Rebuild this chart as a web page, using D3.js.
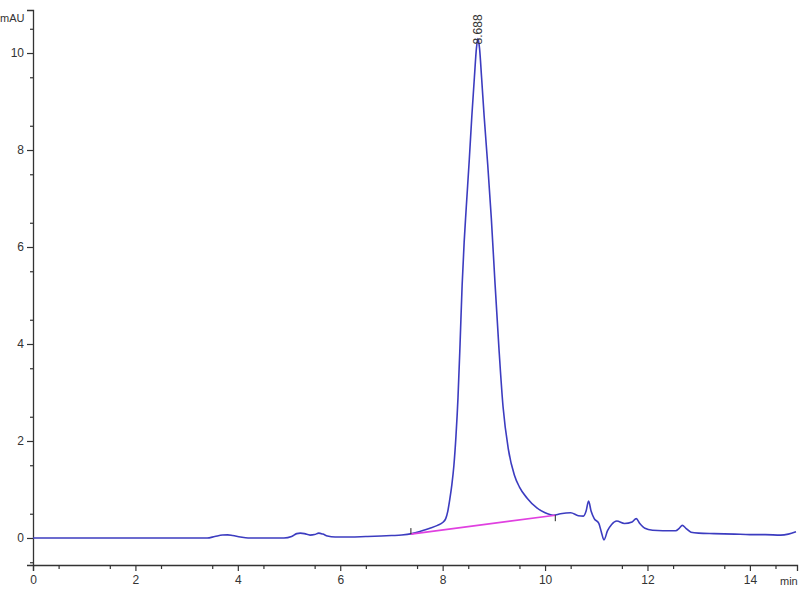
<!DOCTYPE html>
<html>
<head>
<meta charset="utf-8">
<script src="https://cdn.jsdelivr.net/npm/d3@7"></script>
<style>
  html, body { margin: 0; padding: 0; background: #fff; }
  svg { display: block; }
  text { font-family: "Liberation Sans", Arial, sans-serif; }
</style>
</head>
<body>
<svg id="chart" width="800" height="600"></svg>
<script>
// ---- data ----
const times = [0, 0.5, 1.0, 1.5, 2.0, 2.5, 3.0, 3.4, 3.55, 3.7, 3.8, 3.9, 4.05, 4.2, 4.5, 4.9, 5.05, 5.15, 5.22, 5.3, 5.41, 5.5, 5.58, 5.66, 5.75, 5.9, 6.2, 6.5, 6.8, 7.0, 7.2, 7.4, 7.6, 7.75, 7.9, 8.0, 8.06, 8.1, 8.14, 8.18, 8.22, 8.26, 8.30, 8.34, 8.38, 8.42, 8.46, 8.52, 8.57, 8.62, 8.66, 8.688, 8.72, 8.76, 8.81, 8.88, 8.95, 9.02, 9.1, 9.18, 9.28, 9.4, 9.5, 9.65, 9.84, 10.0, 10.16, 10.3, 10.5, 10.65, 10.75, 10.8, 10.85, 10.9, 10.96, 11.05, 11.1, 11.15, 11.22, 11.3, 11.4, 11.55, 11.7, 11.78, 11.85, 11.95, 12.1, 12.3, 12.55, 12.62, 12.68, 12.75, 12.85, 13.0, 13.3, 13.7, 14.0, 14.3, 14.6, 14.75, 14.9];
const values = [0.0, 0.0, 0.0, 0.0, 0.0, 0.0, 0.0, 0.0, 0.03, 0.06, 0.065, 0.05, 0.02, 0.0, 0.0, 0.0, 0.03, 0.09, 0.1, 0.09, 0.06, 0.07, 0.1, 0.08, 0.04, 0.02, 0.02, 0.03, 0.04, 0.05, 0.06, 0.09, 0.15, 0.2, 0.26, 0.32, 0.4, 0.55, 0.8, 1.1, 1.5, 2.1, 2.9, 4.0, 5.2, 6.1, 6.8, 7.8, 8.7, 9.5, 10.1, 10.3, 10.1, 9.5, 8.7, 7.7, 6.6, 5.3, 3.9, 2.7, 1.85, 1.3, 1.05, 0.82, 0.62, 0.52, 0.47, 0.5, 0.52, 0.46, 0.45, 0.55, 0.76, 0.55, 0.4, 0.3, 0.12, -0.04, 0.15, 0.28, 0.35, 0.3, 0.33, 0.4, 0.3, 0.2, 0.16, 0.15, 0.15, 0.2, 0.26, 0.2, 0.12, 0.1, 0.09, 0.08, 0.07, 0.07, 0.06, 0.08, 0.13];
const xMajorTicks = [0, 2, 4, 6, 8, 10, 12, 14];
const yMajorTicks = [0, 2, 4, 6, 8, 10];
const baselineTimes = [7.38, 10.2];
const baselineValues = [0.08, 0.47];
const peakLabel = { time: 8.688, value: 10.3, text: "8.688" };
const xUnit = "min";
const yUnit = "mAU";

// ---- drawing ----
const svg = d3.select("#chart");
const x = d3.scaleLinear().domain([0, 14.92]).range([33, 797]);
const y = d3.scaleLinear().domain([-0.557, 10.887]).range([565, 10]);
const axisColor = "#333";

// minor ticks
const xMinor = d3.range(0.5, 14.92, 1);
const yMinor = d3.range(-0.5, 10.887, 1);

const gx = svg.append("g").attr("transform", `translate(0,${y.range()[0]})`);
gx.call(d3.axisBottom(x).tickValues(xMajorTicks).tickFormat(d3.format("d")).tickSize(6).tickPadding(4));
gx.append("g").call(d3.axisBottom(x).tickValues(xMinor).tickFormat("").tickSize(4))
  .select(".domain").remove();

const gy = svg.append("g").attr("transform", `translate(${x.range()[0]},0)`);
gy.call(d3.axisLeft(y).tickValues(yMajorTicks).tickFormat(d3.format("d")).tickSize(6).tickPadding(3));
gy.append("g").call(d3.axisLeft(y).tickValues(yMinor).tickFormat("").tickSize(3))
  .select(".domain").remove();

svg.selectAll(".domain").attr("stroke", axisColor).attr("stroke-width", 1.3);
svg.selectAll(".tick line").attr("stroke", axisColor).attr("stroke-width", 1.2);
svg.selectAll(".tick text").attr("fill", "#333").attr("font-size", 12)
  .attr("font-family", "'Liberation Sans', Arial, sans-serif");

// units
svg.append("text").attr("x", 0).attr("y", 22).attr("font-size", 11).attr("fill", "#333").text(yUnit);
svg.append("text").attr("x", 780).attr("y", 585).attr("font-size", 11).attr("fill", "#333").text(xUnit);

// chromatogram line
const pts = times.map((t, i) => [t, values[i]]);
const line = d3.line().x(d => x(d[0])).y(d => y(d[1])).curve(d3.curveMonotoneX);
svg.append("path").datum(pts).attr("d", line)
  .attr("fill", "none").attr("stroke", "#3c3cc0").attr("stroke-width", 1.6)
  .attr("stroke-linejoin", "round");

// integration baseline
const bl = baselineTimes.map((t, i) => [t, baselineValues[i]]);
svg.append("path").datum(bl).attr("d", d3.line().x(d => x(d[0])).y(d => y(d[1])))
  .attr("stroke", "#e040e0").attr("stroke-width", 1.6).attr("fill", "none");
// start/end markers
svg.append("line").attr("x1", x(bl[0][0])).attr("x2", x(bl[0][0]))
  .attr("y1", y(bl[0][1]) - 6).attr("y2", y(bl[0][1])).attr("stroke", "#222").attr("stroke-width", 1);
svg.append("line").attr("x1", x(bl[1][0])).attr("x2", x(bl[1][0]))
  .attr("y1", y(bl[1][1])).attr("y2", y(bl[1][1]) + 6).attr("stroke", "#222").attr("stroke-width", 1);

// peak label
svg.append("text")
  .attr("transform", `translate(${x(peakLabel.time) + 4},${y(peakLabel.value) + 6}) rotate(-90)`)
  .attr("font-size", 12).attr("fill", "#333").text(peakLabel.text);
</script>
</body>
</html>
